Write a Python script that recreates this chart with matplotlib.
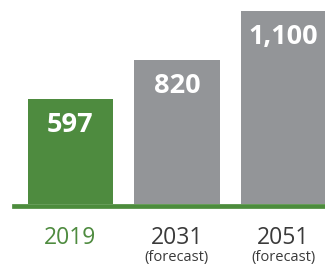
import matplotlib.pyplot as plt

years = ['2019', '2031', '2051']
subs = ['', '(forecast)', '(forecast)']
values = [597, 820, 1100]
labels = ['597', '820', '1,100']

green = '#4e8b3f'
gray = '#939598'
colors = [green, gray, gray]
label_colors = [green, '#3a3a3a', '#3a3a3a']

plt.rcParams['font.family'] = ['Open Sans', 'DejaVu Sans']

fig = plt.figure(figsize=(3.25, 2.73), dpi=100)
ax = fig.add_axes([0, 0, 1, 1])

x = range(len(values))
ax.bar(x, values, width=0.8, color=colors, zorder=2)

# baseline
ax.axhline(-12, xmin=0.043, xmax=1, color='#4c8c3c', lw=3.4, zorder=3)

for i, v in enumerate(values):
    ax.text(i, v - 75, labels[i], ha='center', va='top', color='white',
            fontsize=19.5, fontweight='bold')
    ax.text(i, -125, years[i], ha='center', va='top', color=label_colors[i],
            fontsize=16.5)
    if subs[i]:
        ax.text(i, -258, subs[i], ha='center', va='top', color='#3a3a3a',
                fontsize=10.5)

ax.set_xlim(-0.662, 2.39)
ax.set_ylim(-390, 1160)
ax.axis('off')

fig.savefig('out.png', dpi=100)
